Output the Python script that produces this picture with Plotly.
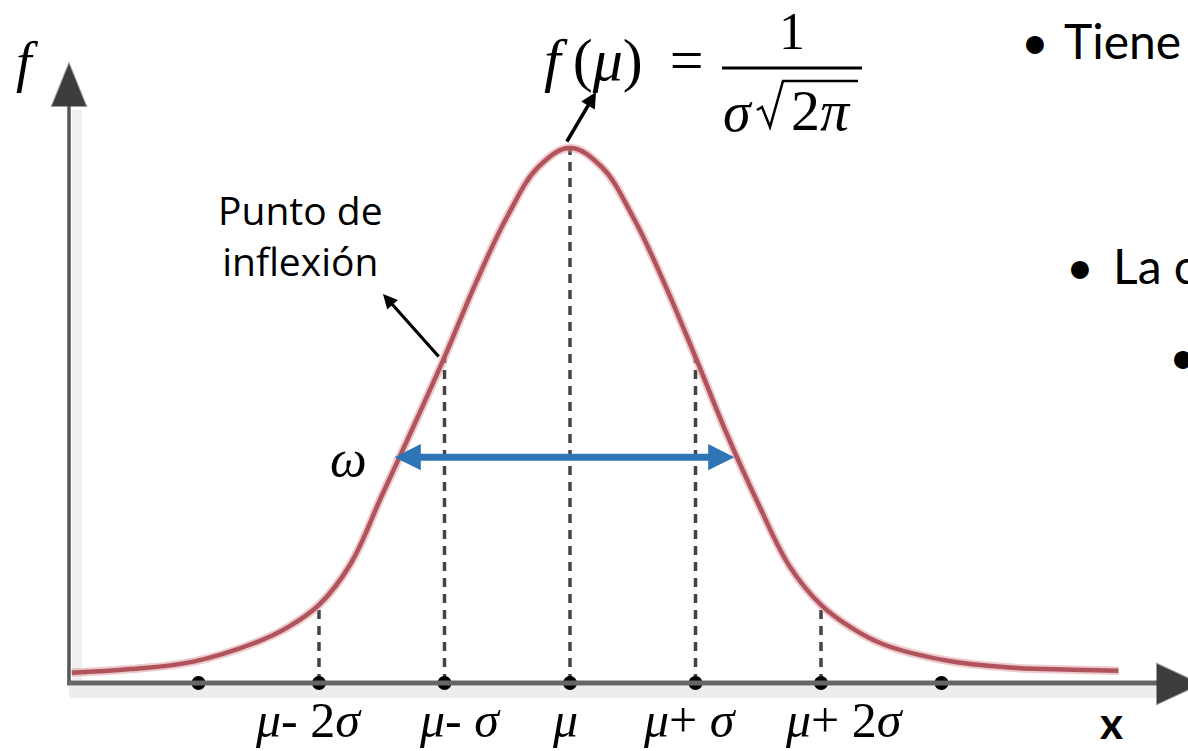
import plotly.graph_objects as go

W, H = 1188, 751

# Bell curve, in units of sigma (x) and fraction of the peak height (y)
curve_z = [-3.97, -3.5, -3.0, -2.5, -2.25, -2.0, -1.75, -1.5, -1.25, -1.0, -0.75, -0.5, -0.25, 0.0,
           0.25, 0.5, 0.75, 1.0, 1.25, 1.5, 1.75, 2.0, 2.25, 2.5, 3.0, 3.5, 4.0, 4.37]
curve_f = [0.019, 0.026, 0.040, 0.076, 0.104, 0.146, 0.222, 0.350, 0.478, 0.609, 0.748, 0.872, 0.965, 1.0,
           0.965, 0.872, 0.748, 0.609, 0.465, 0.335, 0.218, 0.146, 0.102, 0.072, 0.042, 0.029, 0.025, 0.023]

# Marked points on the x axis
dot_z = [-2.96, -2.0, -1.0, 0.0, 1.0, 2.0, 2.96]

# Dashed guides: position and height where they meet the curve
guide_z = [-2.0, -1.0, 0.0, 1.0, 2.0]
guide_f = [0.146, 0.609, 1.0, 0.609, 0.146]

# Width arrow (omega) between the two flanks of the curve
omega_z = [-1.41, 1.31]
omega_f = 0.422

tick_labels = ["<i>μ</i>- 2<i>σ</i>", "<i>μ</i>- <i>σ</i>", "<i>μ</i>",
               "<i>μ</i>+ <i>σ</i>", "<i>μ</i>+ 2<i>σ</i>"]
tick_label_z = [-2.08, -0.88, -0.04, 0.96, 2.19]

# Screen geometry of the drawing (pixels)
MU_PX, SIG_PX, BASE_PX, PEAK_PX = 570.0, 125.5, 683.0, 535.0


def X(px):
    return (px - MU_PX) / SIG_PX


def Y(py):
    return (BASE_PX - py) / PEAK_PX


SERIF = "Liberation Serif"
SANS = "Lato"
CURVE = "#B0535C"
AXIS = "#555555"
BLUE = "#2E75B6"

fig = go.Figure()

# soft halo + curve
fig.add_trace(go.Scatter(x=curve_z, y=curve_f, mode="lines",
                         line=dict(color="rgba(214,140,145,0.45)", width=8.5, shape="spline",
                                   smoothing=1.1),
                         hoverinfo="skip", showlegend=False))
fig.add_trace(go.Scatter(x=curve_z, y=curve_f, mode="lines",
                         line=dict(color=CURVE, width=4.5, shape="spline", smoothing=1.1),
                         hoverinfo="skip", showlegend=False))

shapes = []

# axis shadows
shapes.append(dict(type="line", xref="x", yref="y", x0=X(69), x1=X(1160), y0=Y(692), y1=Y(692),
                   line=dict(color="rgba(0,0,0,0.07)", width=12), layer="below"))
shapes.append(dict(type="line", xref="x", yref="y", x0=X(77), x1=X(77), y0=Y(680), y1=Y(110),
                   line=dict(color="rgba(0,0,0,0.06)", width=10), layer="below"))

# dashed guides from the axis to the curve
for gz, gf in zip(guide_z, guide_f):
    shapes.append(dict(type="line", xref="x", yref="y", x0=gz, x1=gz, y0=0, y1=gf,
                       line=dict(color="#444444", width=3.5, dash="9px,7px"), layer="below"))

# axes
shapes.append(dict(type="line", xref="x", yref="y", x0=X(69), x1=X(69), y0=Y(685), y1=Y(100),
                   line=dict(color=AXIS, width=3.5)))
shapes.append(dict(type="line", xref="x", yref="y", x0=X(67), x1=X(1162), y0=0, y1=0,
                   line=dict(color="#666666", width=5)))
shapes.append(dict(type="path", xref="x", yref="y",
                   path=f"M {X(69)} {Y(64)} L {X(52)} {Y(106)} L {X(86)} {Y(106)} Z",
                   fillcolor="#3d3d3d", line=dict(color="rgba(60,60,60,0.5)", width=2)))
shapes.append(dict(type="path", xref="x", yref="y",
                   path=f"M {X(1157)} {Y(664)} L {X(1200)} {Y(684)} L {X(1157)} {Y(704)} Z",
                   fillcolor="#3d3d3d", line=dict(color="rgba(60,60,60,0.5)", width=2)))

# fraction bar and radical of the peak formula
shapes.append(dict(type="line", xref="x", yref="y", x0=X(722), x1=X(862), y0=Y(68), y1=Y(68),
                   line=dict(color="black", width=3)))
shapes.append(dict(type="path", xref="x", yref="y",
                   path=(f"M {X(757)} {Y(110)} L {X(762)} {Y(107)} L {X(770)} {Y(127)} "
                         f"L {X(783)} {Y(81)} L {X(858)} {Y(81)}"),
                   line=dict(color="black", width=2.5)))

fig.add_trace(go.Scatter(x=dot_z, y=[0] * len(dot_z), mode="markers",
                         marker=dict(color="black", size=14), hoverinfo="skip", showlegend=False))

annotations = []


def label(text, px, py, size, family=SERIF, xanchor="center", yanchor="middle", color="black"):
    annotations.append(dict(text=text, x=X(px), y=Y(py), xref="x", yref="y",
                            xanchor=xanchor, yanchor=yanchor, showarrow=False,
                            font=dict(size=size, family=family, color=color)))


# omega arrow
annotations.append(dict(text="", x=omega_z[1], y=omega_f, ax=omega_z[0], ay=omega_f,
                        xref="x", yref="y", axref="x", ayref="y", showarrow=True,
                        arrowside="end+start", arrowhead=2, arrowsize=0.75, arrowwidth=7,
                        arrowcolor=BLUE, standoff=0, startstandoff=0))
# pointer to the peak
annotations.append(dict(text="", x=X(596), y=Y(92), ax=X(566), ay=Y(143),
                        xref="x", yref="y", axref="x", ayref="y", showarrow=True,
                        arrowhead=2, arrowsize=0.9, arrowwidth=3.5, arrowcolor="black",
                        standoff=0))
# pointer to the inflection point
annotations.append(dict(text="", x=X(383), y=Y(294), ax=X(440), ay=Y(358),
                        xref="x", yref="y", axref="x", ayref="y", showarrow=True,
                        arrowhead=2, arrowsize=0.9, arrowwidth=3.2, arrowcolor="black",
                        standoff=0))

# formula f(mu) = 1 / (sigma sqrt(2 pi))
label("<i>f</i>\u2009(<i>μ</i>)\u2009 =", 624, 60, 60)
label("1", 792, 1, 52, yanchor="top")
label("<i>σ</i>", 738, 112, 56)
label("2<i>π</i>", 821, 110, 58)

label("<i>f</i>", 27, 62, 56)
label("<i>ω</i>", 348, 458, 52)
label("Punto de<br>inflexión", 300, 235, 39, family="Open Sans")

for t, z in zip(tick_labels, tick_label_z):
    annotations.append(dict(text=t, x=z, y=Y(750), xref="x", yref="y", xanchor="center",
                            yanchor="bottom", showarrow=False,
                            font=dict(size=50, family=SERIF, color="black")))

label("<b>x</b>", 1111, 750, 44, family=SANS, yanchor="bottom")

# bullet text on the right (runs past the right edge)
label("•", 1035, 40, 48, family=SANS)
label("Tiene", 1062, 40, 48, family=SANS, xanchor="left")
label("•", 1080, 265, 48, family=SANS)
label("La c", 1111, 265, 48, family=SANS, xanchor="left")
label("•", 1183, 355, 48, family=SANS)

fig.update_layout(
    width=W, height=H,
    margin=dict(l=0, r=0, t=0, b=0),
    paper_bgcolor="white", plot_bgcolor="white",
    xaxis=dict(range=[X(0), X(W)], visible=False, fixedrange=True),
    yaxis=dict(range=[Y(H), Y(0)], visible=False, fixedrange=True),
    shapes=shapes, annotations=annotations, showlegend=False,
)

fig.write_html("out.html")
